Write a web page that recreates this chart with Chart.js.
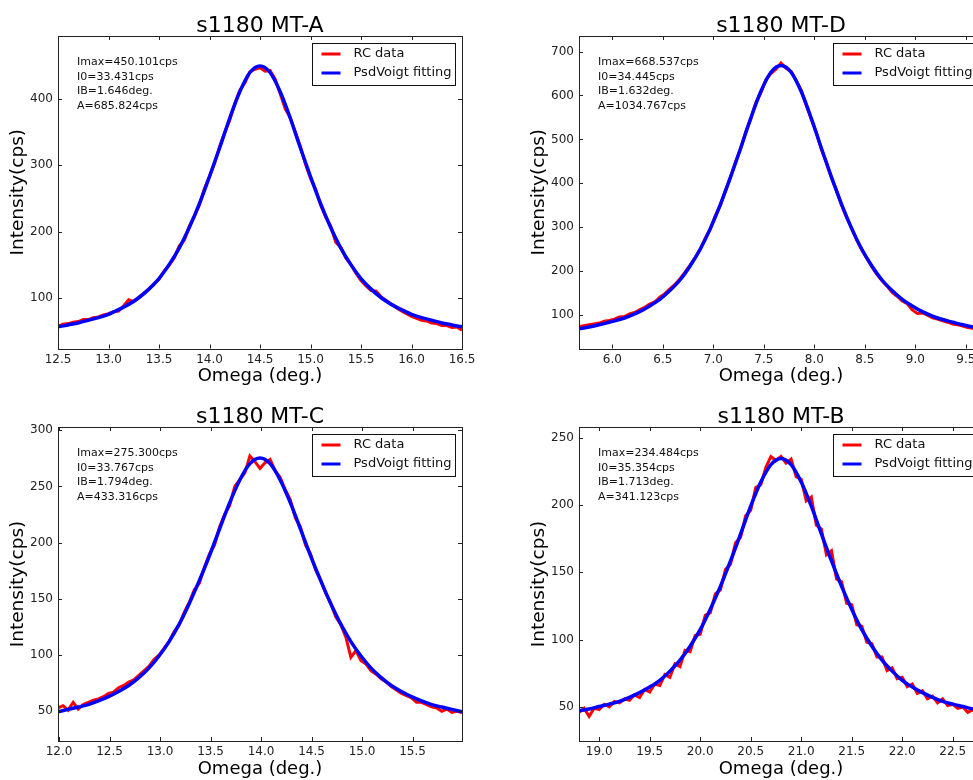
<!DOCTYPE html>
<html>
<head>
<meta charset="utf-8">
<script src="https://cdn.jsdelivr.net/npm/chart.js@4.4.1/dist/chart.umd.min.js"></script>
<style>
  html, body { margin: 0; padding: 0; background: #fff; }
  body { width: 973px; height: 780px; overflow: hidden; position: relative; }
  canvas { position: absolute; }
</style>
</head>
<body>
<canvas id="mtA" width="490" height="390" style="left:0px;top:0px"></canvas>
<canvas id="mtD" width="490" height="390" style="left:521px;top:0px"></canvas>
<canvas id="mtC" width="490" height="389" style="left:0px;top:391px"></canvas>
<canvas id="mtB" width="490" height="389" style="left:521px;top:391px"></canvas>
<script>
// rocking curves, omega in deg., intensity in cps
// red = measured (step 0.05 deg), blue = pseudo-Voigt fit (step 0.1 deg)

// --- MT-A ---
const A_RANGE = [12.5, 16.5];
const A_RED = [57,60,61,63,64,67,67,70,71,74,76,79,80,88,97,94,101,107,113,121,128,140,149,160,178,187,208,223,240,265,283,303,328,349,368,393,413,424,441,445,
  447,
  442,443,430,408,385,372,350,328,302,280,264,240,222,208,184,176,160,150,137,126,118,111,110,101,96,90,85,80,76,72,69,66,65,62,61,58,58,55,56,51];
const A_FIT = [56,59,62,66,70,75,82,90,100,113,129,150,175,206,242,283,326,371,411,440,450,440,411,371,326,283,242,206,175,150,129,113,100,90,82,75,70,66,62,59,56];
const A_XTICKS = [12.5,13,13.5,14,14.5,15,15.5,16,16.5];
const A_YTICKS = [100,200,300,400];
const A_YLIM = [23.4, 495.1];
const A_STATS = ['Imax=450.101cps','I0=33.431cps','IB=1.646deg.','A=685.824cps'];

// --- MT-D ---
const D_RANGE = [5.67, 9.67];
const D_RED = [74,76,78,80,82,86,88,91,96,97,103,106,112,118,125,130,141,149,160,170,183,198,214,231,250,275,296,326,350,384,414,449,478,517,546,583,606,636,650,660,
  674,
  662,655,634,612,578,546,516,477,448,412,384,350,322,298,271,248,229,210,193,178,166,152,143,132,126,112,104,105,100,94,91,87,84,80,78,75,72,70,69,66];
const D_FIT = [69,73,78,84,90,98,108,121,136,156,180,212,250,297,352,414,480,548,609,653,668.5,653,609,548,480,414,352,297,250,212,180,156,136,121,108,98,90,84,78,73,69];
const D_XTICKS = [6,6.5,7,7.5,8,8.5,9,9.5];
const D_YTICKS = [100,200,300,400,500,600,700];
const D_YLIM = [24.1, 735.4];
const D_STATS = ['Imax=668.537cps','I0=34.445cps','IB=1.632deg.','A=1034.767cps'];

// --- MT-C ---
const C_RANGE = [11.99, 15.99];
const C_RED = [53,55,51,58,52,56,58,60,61,63,66,67,71,73,76,78,82,86,90,96,100,106,112,121,127,138,147,158,164,178,190,198,214,225,233,250,256,262,277,272,
  266,
  271,274,264,258,247,238,222,214,198,190,176,167,155,146,134,127,116,98,104,95,92,86,83,79,76,72,69,66,64,62,58,58,56,54,53,50,52,49,50,49];
const C_FIT = [49.5,51.7,53.8,56,59.2,63,67.6,72.9,79.9,88.4,99.2,112,127.5,145.9,166.4,188.4,212.3,235.5,255.7,270.2,275.3,270.2,255.7,235.5,212.3,188.4,166.4,145.9,127.5,112,99.2,88.4,79.9,72.9,67.6,63,59.2,56,53.8,51.7,49.5];
const C_XTICKS = [12,12.5,13,13.5,14,14.5,15,15.5];
const C_YTICKS = [50,100,150,200,250,300];
const C_YLIM = [23.6, 302.8];
const C_STATS = ['Imax=275.300cps','I0=33.767cps','IB=1.794deg.','A=433.316cps'];

// --- MT-B ---
const B_RANGE = [18.8, 22.8];
const B_RED = [46,49,43,49,48,52,50,54,53,56,55,59,57,63,61,67,66,74,72,82,80,92,91,103,104,118,120,134,137,152,156,172,176,192,196,213,215,228,236,233,
  236,
  231,234,221,219,203,206,185,182,163,166,145,143,127,126,111,110,98,97,87,87,77,79,71,72,65,67,60,62,56,58,53,56,51,52,49,50,46,48,43,45];
const B_FIT = [47.1,48.5,50.3,52.1,54.1,57.1,60.6,64.8,69.8,76.6,84.7,95.1,107.4,122.6,139.5,158.4,178.5,199.1,217,229.9,234.5,229.9,217,199.1,178.5,158.4,139.5,122.6,107.4,95.1,84.7,76.6,69.8,64.8,60.6,57.1,54.1,52.1,50.3,48.5,47.1];
const B_XTICKS = [19,19.5,20,20.5,21,21.5,22,22.5];
const B_YTICKS = [50,100,150,200,250];
const B_YLIM = [24.7, 257.9];
const B_STATS = ['Imax=234.484cps','I0=35.354cps','IB=1.713deg.','A=341.123cps'];

const FONT = '"DejaVu Sans", "Bitstream Vera Sans", sans-serif';

function toPoints(start, step, values) {
  return values.map((v, i) => ({ x: start + i * step, y: v }));
}

// title over the plot box, frame, inward ticks on all sides, fit numbers, boxed legend
const panelDecor = {
  id: 'panelDecor',
  afterDatasetsDraw(chart, args, opts) {
    const ctx = chart.ctx;
    const a = chart.chartArea;
    const xs = chart.scales.x, ys = chart.scales.y;
    ctx.save();

    ctx.fillStyle = '#000';
    ctx.font = '22px ' + FONT;
    ctx.textAlign = 'center';
    ctx.textBaseline = 'alphabetic';
    ctx.fillText(opts.title, (a.left + a.right) / 2, a.top - 4);

    ctx.strokeStyle = '#222';
    ctx.lineWidth = 1;
    ctx.strokeRect(Math.round(a.left) + 0.5, Math.round(a.top) + 0.5,
      Math.round(a.right - a.left), Math.round(a.bottom - a.top));
    ctx.beginPath();
    xs.ticks.forEach(t => {
      const p = Math.round(xs.getPixelForValue(t.value)) + 0.5;
      ctx.moveTo(p, a.bottom); ctx.lineTo(p, a.bottom - 4);
      ctx.moveTo(p, a.top); ctx.lineTo(p, a.top + 4);
    });
    ys.ticks.forEach(t => {
      const p = Math.round(ys.getPixelForValue(t.value)) + 0.5;
      ctx.moveTo(a.left, p); ctx.lineTo(a.left + 4, p);
      ctx.moveTo(a.right, p); ctx.lineTo(a.right - 4, p);
    });
    ctx.stroke();

    ctx.fillStyle = '#111';
    ctx.font = '11px ' + FONT;
    ctx.textBaseline = 'middle';
    ctx.textAlign = 'left';
    opts.stats.forEach((s, i) => ctx.fillText(s, a.left + 19, a.top + 26 + i * 14.7));

    const bx = Math.round(a.right - 150) + 0.5, by = Math.round(a.top + 7) + 0.5;
    ctx.fillStyle = '#fff';
    ctx.fillRect(bx, by, 143, 42);
    ctx.strokeStyle = '#111';
    ctx.strokeRect(bx, by, 143, 42);
    const items = [['RC data', 'red'], ['PsdVoigt fitting', 'blue']];
    ctx.font = '13px ' + FONT;
    items.forEach((it, i) => {
      const ly = by + 10.5 + i * 19;
      ctx.strokeStyle = it[1];
      ctx.lineWidth = 3;
      ctx.beginPath();
      ctx.moveTo(bx + 9, ly); ctx.lineTo(bx + 28, ly);
      ctx.stroke();
      ctx.fillStyle = '#111';
      ctx.fillText(it[0], bx + 41, ly);
    });
    ctx.restore();
  }
};

function makePanel(id, title, range, red, fit, xticks, yticks, ylim, stats, xAxisH, xTitlePad) {
  const tickFont = { family: FONT, size: 12 };
  new Chart(document.getElementById(id), {
    type: 'line',
    data: {
      datasets: [
        {
          label: 'PsdVoigt fitting',
          data: toPoints(range[0], 0.1, fit),
          borderColor: 'blue',
          borderWidth: 3.5,
          pointRadius: 0,
          cubicInterpolationMode: 'monotone',
          order: 0
        },
        {
          label: 'RC data',
          data: toPoints(range[0], 0.05, red),
          borderColor: 'red',
          borderWidth: 3,
          pointRadius: 0,
          tension: 0,
          order: 1
        }
      ]
    },
    options: {
      responsive: false,
      animation: false,
      devicePixelRatio: 1,
      parsing: false,
      layout: { padding: { left: 0, right: 28, top: 36, bottom: 0 } },
      plugins: {
        legend: { display: false },
        tooltip: { enabled: false },
        title: { display: false },
        panelDecor: { stats: stats, title: title }
      },
      scales: {
        x: {
          type: 'linear',
          min: range[0],
          max: range[1],
          afterFit: s => { s.height = xAxisH; },
          afterBuildTicks: s => { s.ticks = xticks.map(v => ({ value: v })); },
          grid: { display: false, drawTicks: false },
          border: { display: false },
          ticks: {
            font: tickFont, color: '#222', padding: 4,
            autoSkip: false, maxRotation: 0,
            callback: v => Number(v).toFixed(1)
          },
          title: {
            display: true, text: 'Omega (deg.)', color: '#000',
            font: { family: FONT, size: 18 },
            padding: { top: 0, bottom: xTitlePad }
          }
        },
        y: {
          type: 'linear',
          min: ylim[0],
          max: ylim[1],
          afterFit: s => { s.width = 58; },
          afterBuildTicks: s => { s.ticks = yticks.map(v => ({ value: v })); },
          grid: { display: false, drawTicks: false },
          border: { display: false },
          ticks: { font: tickFont, color: '#222', padding: 5, callback: v => String(v) },
          title: {
            display: true, text: 'Intensity(cps)', color: '#000',
            font: { family: FONT, size: 18.5 },
            padding: { top: 7, bottom: 0 }
          }
        }
      }
    },
    plugins: [panelDecor]
  });
}

makePanel('mtA', 's1180 MT-A', A_RANGE, A_RED, A_FIT, A_XTICKS, A_YTICKS, A_YLIM, A_STATS, 41.5, 3);
makePanel('mtD', 's1180 MT-D', D_RANGE, D_RED, D_FIT, D_XTICKS, D_YTICKS, D_YLIM, D_STATS, 41.5, 3);
makePanel('mtC', 's1180 MT-C', C_RANGE, C_RED, C_FIT, C_XTICKS, C_YTICKS, C_YLIM, C_STATS, 39, 0);
makePanel('mtB', 's1180 MT-B', B_RANGE, B_RED, B_FIT, B_XTICKS, B_YTICKS, B_YLIM, B_STATS, 39, 0);
</script>
</body>
</html>
